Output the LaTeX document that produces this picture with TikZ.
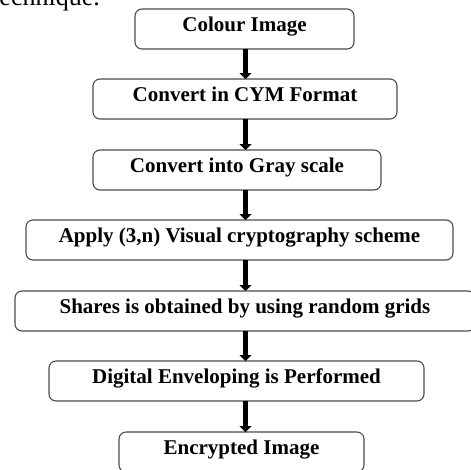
\documentclass[tikz,border=0pt]{standalone}
\usepackage{fontspec}
\setmainfont{Liberation Serif}
\usetikzlibrary{arrows.meta, positioning}

\begin{document}
\begin{tikzpicture}[x=1pt, y=-1pt,
    procbox/.style={draw=black!70, line width=1.1pt, rounded corners=7pt, font=\fontsize{21}{24}\selectfont\bfseries, inner xsep=0pt, inner ysep=0pt, outer sep=0pt, text height=22pt, text depth=18pt, align=center},
    flowarr/.style={-{Triangle[width=12pt, length=6pt]}, line width=4.5pt}]
                \useasboundingbox (0,0) rectangle (471,469);
                \clip (0,0) rectangle (471,469);
                % tail of the text line above
                \node[anchor=base east, font=\fontsize{26}{30}\selectfont, inner sep=0pt] (prev) at (100,5) {technique.};
                % Colour image
                \node[procbox, minimum width=219pt, anchor=north] (colour) at (244.5,9) {Colour Image};
                % CYM
                \node[procbox, minimum width=304pt, below=30pt of colour, xshift=0.5pt] (cym) {Convert in CYM Format};
                % Gray scale
                \node[procbox, minimum width=288pt, below=31pt of cym, xshift=-8pt] (gray) {Convert into Gray scale};
                % (3,n) VC
                \node[procbox, minimum width=427pt, below=30pt of gray, xshift=2.5pt] (vcs) {Apply (3,n) Visual cryptography scheme};
                % Random grids
                \node[procbox, minimum width=460pt, below=31pt of vcs, xshift=5.5pt] (shares) {Shares is obtained by using random grids};
                % Enveloping
                \node[procbox, minimum width=375pt, below=30pt of shares, xshift=-8.5pt] (envel) {Digital Enveloping is Performed};
                % Output
                \node[procbox, minimum width=245pt, below=31pt of envel, xshift=5pt] (enc) {Encrypted Image};
                % Arrows
                \coordinate (spine) at (245.5,0);
                \draw[flowarr] (colour.south -| spine) -- (cym.north -| spine);
                \draw[flowarr] (cym.south -| spine) -- (gray.north -| spine);
                \draw[flowarr] (gray.south -| spine) -- (vcs.north -| spine);
                \draw[flowarr] (vcs.south -| spine) -- (shares.north -| spine);
                \draw[flowarr] (shares.south -| spine) -- (envel.north -| spine);
                \draw[flowarr] (envel.south -| spine) -- (enc.north -| spine);
            \end{tikzpicture}
\end{document}
